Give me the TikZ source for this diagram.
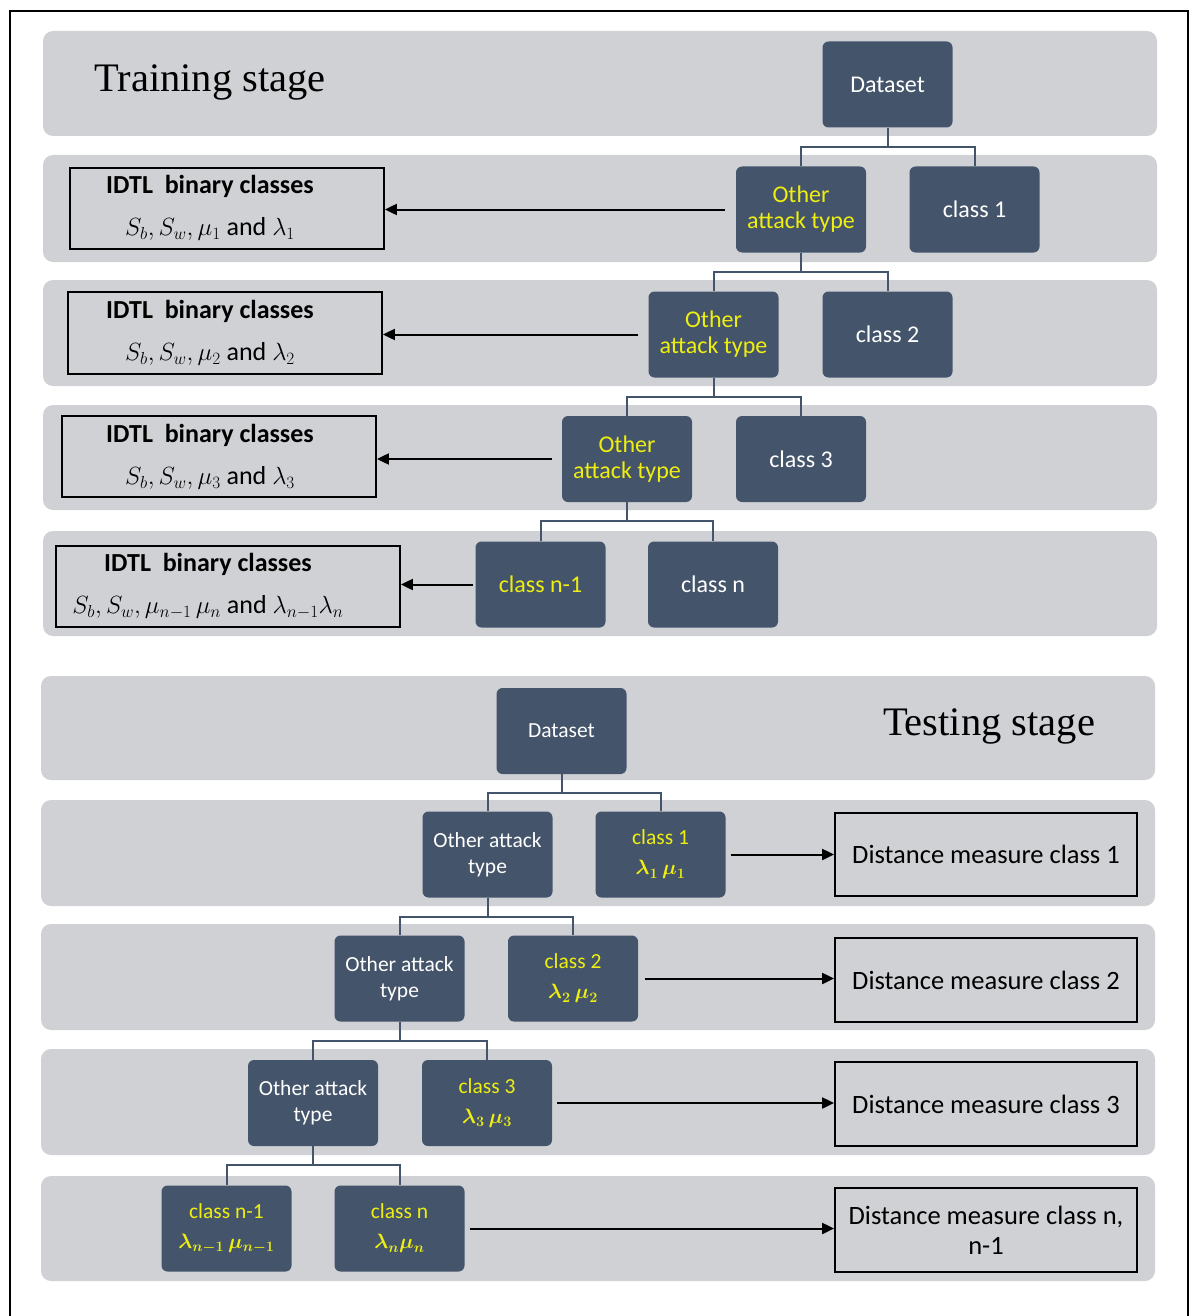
\documentclass[tikz,border=0pt]{standalone}
\usepackage{fontspec}
\setmainfont{Carlito}
\newfontfamily\stagefont{Liberation Serif}
\usetikzlibrary{arrows.meta, positioning}
\definecolor{bandgray}{HTML}{D0D1D5}
\definecolor{boxslate}{HTML}{44546A}
\definecolor{boxyellow}{HTML}{EEEE10}

\begin{document}
\begin{tikzpicture}[x=1pt, y=-1pt,
  band/.style={fill=bandgray, rounded corners=10pt},
  darkbox/.style={fill=boxslate, rounded corners=6pt, minimum width=130pt, minimum height=86pt,
    inner sep=0pt, align=center, text=white, font=\fontsize{24}{26}\selectfont},
  testbox/.style={darkbox, font=\fontsize{21.5}{26}\selectfont\boldmath},
  ylw/.style={text=boxyellow},
  tree/.style={draw=boxslate, line width=2pt},
  arr/.style={-{Triangle[length=12pt,width=11pt]}, line width=2pt},
  outbox/.style={draw=black, line width=1.8pt, inner sep=0pt},
  idtltext/.style={align=center, inner sep=0pt, font=\fontsize{26}{42}\selectfont},
  distext/.style={font=\fontsize{26.5}{30}\selectfont},
  stagetitle/.style={font=\stagefont\fontsize{40.5}{42}\selectfont}]
\useasboundingbox (0,0) rectangle (1190,1316);
% Frame
\draw[line width=2.5pt] (10,1316) -- (10,11) -- (1188,11) -- (1188,1316);
% Training bands
\fill[band] (43,31) rectangle (1157,136);
\fill[band] (43,155) rectangle (1157,262);
\fill[band] (43,280) rectangle (1157,386);
\fill[band] (43,405) rectangle (1157,510);
\fill[band] (43,531) rectangle (1157,636);
% Testing bands
\fill[band] (41,676) rectangle (1155,780);
\fill[band] (41,800) rectangle (1155,906);
\fill[band] (41,924) rectangle (1155,1030);
\fill[band] (41,1049) rectangle (1155,1155);
\fill[band] (41,1176) rectangle (1155,1281);
% Training stage
\node[stagetitle] (ttitle) at (210,82) {Training stage};
\node[darkbox] (tds) at (887.5,84.5) {Dataset};
\node[darkbox, ylw] (to1) at (801,209.5) {Other\\attack type};
\node[darkbox] (tc1) at (974.5,209.5) {class 1};
\node[darkbox, ylw] (to2) at (713.5,334.5) {Other\\attack type};
\node[darkbox] (tc2) at (887.5,334.5) {class 2};
\node[darkbox, ylw] (to3) at (627,459) {Other\\attack type};
\node[darkbox] (tc3) at (801,459) {class 3};
\node[darkbox, ylw] (tcn1) at (540.5,584.5) {class n-1};
\node[darkbox] (tcn) at (713,584.5) {class n};
\draw[tree] (tds.south) -- ++(0,19) -| (to1.north);
\draw[tree] (tds.south) -- ++(0,19) -| (tc1.north);
\draw[tree] (to1.south) -- ++(0,19) -| (to2.north);
\draw[tree] (to1.south) -- ++(0,19) -| (tc2.north);
\draw[tree] (to2.south) -- ++(0,19) -| (to3.north);
\draw[tree] (to2.south) -- ++(0,19) -| (tc3.north);
\draw[tree] (to3.south) -- ++(0,19) -| (tcn1.north);
\draw[tree] (to3.south) -- ++(0,19) -| (tcn.north);
% IDTL boxes
\node[outbox, minimum width=314pt, minimum height=81pt] (ib1) at (227,208.5) {};
\node[idtltext] (it1) at (210,208) {\textbf{IDTL\ \ binary classes}\\$S_b, S_w, \mu_1$ and $\lambda_1$};
\node[outbox, minimum width=314pt, minimum height=82pt] (ib2) at (225,333) {};
\node[idtltext] (it2) at (210,333) {\textbf{IDTL\ \ binary classes}\\$S_b, S_w, \mu_2$ and $\lambda_2$};
\node[outbox, minimum width=314pt, minimum height=81pt] (ib3) at (219,456.5) {};
\node[idtltext] (it3) at (210,457) {\textbf{IDTL\ \ binary classes}\\$S_b, S_w, \mu_3$ and $\lambda_3$};
\node[outbox, minimum width=344pt, minimum height=81pt] (ib4) at (228,586.5) {};
\node[idtltext] (it4) at (208,586) {\textbf{IDTL\ \ binary classes}\\$S_b, S_w, \mu_{n-1}\,\mu_n$ and $\lambda_{n-1}\lambda_n$};
\draw[arr, shorten <=11pt] (to1.west) -- (to1.west -| ib1.east);
\draw[arr, shorten <=10pt] (to2.west) -- (to2.west -| ib2.east);
\draw[arr, shorten <=10pt] (to3.west) -- (to3.west -| ib3.east);
\draw[arr, shorten <=2pt] (tcn1.west) -- (tcn1.west -| ib4.east);
% Testing stage
\node[stagetitle] (stitle) at (989,726) {Testing stage};
\node[testbox] (sds) at (561.5,731) {Dataset};
\node[testbox] (so1) at (487.5,854.5) {Other attack\\type};
\node[testbox, ylw] (sc1) at (660.5,854.5) {class 1\\[4pt]$\lambda_1\,\mu_1$};
\node[testbox] (so2) at (399.5,978.5) {Other attack\\type};
\node[testbox, ylw] (sc2) at (573,978.5) {class 2\\[4pt]$\lambda_2\,\mu_2$};
\node[testbox] (so3) at (313,1103) {Other attack\\type};
\node[testbox, ylw] (sc3) at (487,1103) {class 3\\[4pt]$\lambda_3\,\mu_3$};
\node[testbox, ylw] (scn1) at (226.5,1228.5) {class n-1\\[4pt]$\lambda_{n-1}\,\mu_{n-1}$};
\node[testbox, ylw] (scn) at (399.5,1228.5) {class n\\[4pt]$\lambda_n\mu_n$};
\draw[tree] (sds.south) -- ++(0,19) -| (so1.north);
\draw[tree] (sds.south) -- ++(0,19) -| (sc1.north);
\draw[tree] (so1.south) -- ++(0,19) -| (so2.north);
\draw[tree] (so1.south) -- ++(0,19) -| (sc2.north);
\draw[tree] (so2.south) -- ++(0,19) -| (so3.north);
\draw[tree] (so2.south) -- ++(0,19) -| (sc3.north);
\draw[tree] (so3.south) -- ++(0,19) -| (scn1.north);
\draw[tree] (so3.south) -- ++(0,19) -| (scn.north);
% Distance boxes
\node[outbox, distext, minimum width=302pt, minimum height=83pt] (dm1) at (986,854.5) {Distance measure class 1};
\node[outbox, distext, minimum width=302pt, minimum height=84pt] (dm2) at (986,980) {Distance measure class 2};
\node[outbox, distext, minimum width=302pt, minimum height=84pt] (dm3) at (986,1104) {Distance measure class 3};
\node[outbox, distext, minimum width=302pt, minimum height=84pt, align=center] (dm4) at (986,1230) {Distance measure class n,\\n-1};
\draw[arr, shorten <=5pt] (sc1.east) -- (sc1.east -| dm1.west);
\draw[arr, shorten <=7pt] (sc2.east) -- (sc2.east -| dm2.west);
\draw[arr, shorten <=5pt] (sc3.east) -- (sc3.east -| dm3.west);
\draw[arr, shorten <=5pt] (scn.east) -- (scn.east -| dm4.west);
\end{tikzpicture}
\end{document}
